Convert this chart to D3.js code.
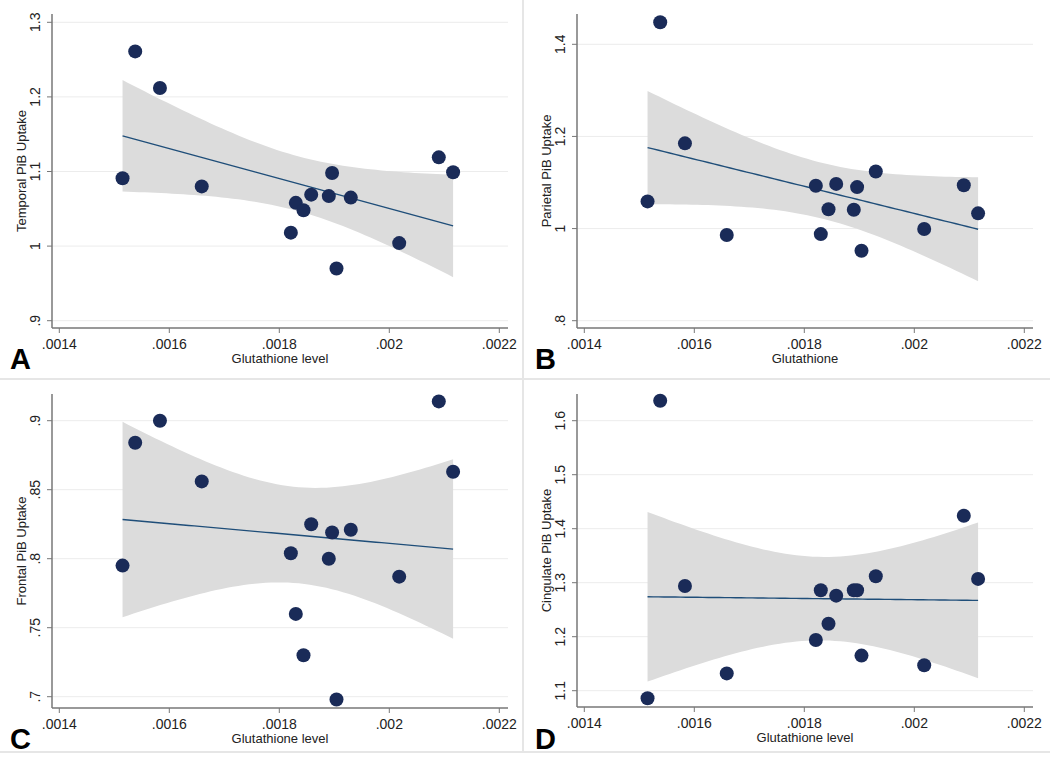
<!DOCTYPE html>
<html>
<head>
<meta charset="utf-8">
<script src="https://cdn.jsdelivr.net/npm/d3@7"></script>
<style>
  body { margin: 0; background: #fff; }
  svg text { font-family: "Liberation Sans", Arial, sans-serif; fill: #222; }
</style>
</head>
<body>
<div id="vis"></div>
<script>
// glutathione level for the 15 subjects (shared by every panel)
let glutathione = [.001515, .001538, .001583, .001659, .001821, .001830, .001844, .001858, .001890, .001896, .001904, .001930, .002018, .002090, .002116]

let temporal  = [1.091, 1.261, 1.212, 1.080, 1.018, 1.058, 1.048, 1.069, 1.067, 1.098, 0.970, 1.065, 1.004, 1.119, 1.099]
let parietal  = [1.059, 1.448, 1.185, 0.986, 1.093, 0.988, 1.042, 1.097, 1.041, 1.090, 0.952, 1.124, 0.999, 1.094, 1.033]
let frontal   = [0.795, 0.884, 0.900, 0.856, 0.804, 0.760, 0.730, 0.825, 0.800, 0.819, 0.698, 0.821, 0.787, 0.914, 0.863]
let cingulate = [1.086, 1.637, 1.294, 1.132, 1.194, 1.286, 1.224, 1.276, 1.286, 1.286, 1.165, 1.312, 1.147, 1.424, 1.307]

let xTicks = [.0014, .0016, .0018, .002, .0022]
let xTickLabels = ['.0014', '.0016', '.0018', '.002', '.0022']

let temporalTicks  = [.9, 1, 1.1, 1.2, 1.3]
let temporalLabels = ['.9', '1', '1.1', '1.2', '1.3']
let parietalTicks  = [.8, 1, 1.2, 1.4]
let parietalLabels = ['.8', '1', '1.2', '1.4']
let frontalTicks   = [.7, .75, .8, .85, .9]
let frontalLabels  = ['.7', '.75', '.8', '.85', '.9']
let cingulateTicks  = [1.1, 1.2, 1.3, 1.4, 1.5, 1.6]
let cingulateLabels = ['1.1', '1.2', '1.3', '1.4', '1.5', '1.6']

let panels = [
  {letter: 'A', ox: 0,   oy: 0,   y: temporal,  yTitle: 'Temporal PiB Uptake',  xTitle: 'Glutathione level', ticks: temporalTicks,  labels: temporalLabels,  dom: [.9, 1.3],  rng: [320.7, 22.3], axisY: 328},
  {letter: 'B', ox: 525, oy: 0,   y: parietal,  yTitle: 'Parietal PiB Uptake',  xTitle: 'Glutathione',       ticks: parietalTicks,  labels: parietalLabels,  dom: [.8, 1.4],  rng: [320.7, 44.3], axisY: 328},
  {letter: 'C', ox: 0,   oy: 380, y: frontal,   yTitle: 'Frontal PiB Uptake',   xTitle: 'Glutathione level', ticks: frontalTicks,   labels: frontalLabels,   dom: [.7, .9],   rng: [316.7, 40.7], axisY: 328},
  {letter: 'D', ox: 525, oy: 380, y: cingulate, yTitle: 'Cingulate PiB Uptake', xTitle: 'Glutathione level', ticks: cingulateTicks, labels: cingulateLabels, dom: [1.1, 1.6], rng: [310.7, 40.7], axisY: 327}
]

let width = 1050, height = 761

let svg = d3.select('#vis')
  .append('svg')
  .attr('width', width)
  .attr('height', height)

// panel separators
svg.append('rect').attr('width', width).attr('height', height).attr('fill', '#fff')
svg.append('line').attr('x1', 523).attr('x2', 523).attr('y1', 0).attr('y2', 752)
  .attr('stroke', '#e6e6e6').attr('stroke-width', 2)
svg.append('line').attr('x1', 0).attr('x2', width).attr('y1', 379).attr('y2', 379)
  .attr('stroke', '#e6e6e6').attr('stroke-width', 2)
svg.append('line').attr('x1', 0).attr('x2', width).attr('y1', 752).attr('y2', 752)
  .attr('stroke', '#e6e6e6').attr('stroke-width', 2)

// ols fit with 95% CI of the mean (t, 13 df)
function fit(xs, ys) {
  let n = xs.length
  let mx = d3.mean(xs), my = d3.mean(ys)
  let sxx = d3.sum(xs, x => (x - mx) ** 2)
  let sxy = d3.sum(xs, (x, i) => (x - mx) * (ys[i] - my))
  let b = sxy / sxx, a = my - b * mx
  let s2 = d3.sum(xs, (x, i) => (ys[i] - a - b * x) ** 2) / (n - 2)
  let t = 2.160
  return x0 => {
    let yhat = a + b * x0
    let se = Math.sqrt(s2 * (1 / n + (x0 - mx) ** 2 / sxx))
    return {x: x0, y: yhat, lo: yhat - t * se, hi: yhat + t * se}
  }
}

panels.forEach(p => {
  let g = svg.append('g').attr('transform', `translate(${p.ox},${p.oy})`)

  let x = d3.scaleLinear().domain([.0014, .0022]).range([59.3, 499.3])
  let y = d3.scaleLinear().domain(p.dom).range(p.rng)
  let left = 52, right = 508, top = 14

  // grid
  g.selectAll('.grid')
    .data(p.ticks)
    .join('line')
    .attr('x1', left).attr('x2', right)
    .attr('y1', d => y(d)).attr('y2', d => y(d))
    .attr('stroke', '#ececec').attr('stroke-width', 1)

  // CI band + fit line
  let model = fit(glutathione, p.y)
  let [xmin, xmax] = d3.extent(glutathione)
  let pts = d3.range(0, 61).map(i => model(xmin + (xmax - xmin) * i / 60))

  g.append('path')
    .datum(pts)
    .attr('d', d3.area().x(d => x(d.x)).y0(d => y(d.lo)).y1(d => y(d.hi)))
    .attr('fill', '#dcdcdc')

  g.append('path')
    .datum(pts)
    .attr('d', d3.line().x(d => x(d.x)).y(d => y(d.y)))
    .attr('fill', 'none')
    .attr('stroke', '#1f4e79')
    .attr('stroke-width', 1.4)

  // points
  g.selectAll('.dot')
    .data(glutathione.map((gx, i) => [gx, p.y[i]]))
    .join('circle')
    .attr('cx', d => x(d[0]))
    .attr('cy', d => y(d[1]))
    .attr('r', 7)
    .attr('fill', '#1a2b58')

  // axes
  g.append('line').attr('x1', left).attr('x2', left).attr('y1', top).attr('y2', p.axisY)
    .attr('stroke', '#777').attr('stroke-width', 1.5)
  g.append('line').attr('x1', left).attr('x2', right).attr('y1', p.axisY).attr('y2', p.axisY)
    .attr('stroke', '#777').attr('stroke-width', 1.5)

  g.selectAll('.ytick')
    .data(p.ticks)
    .join('line')
    .attr('x1', left - 5).attr('x2', left)
    .attr('y1', d => y(d)).attr('y2', d => y(d))
    .attr('stroke', '#777').attr('stroke-width', 1)

  g.selectAll('.ylab')
    .data(p.ticks)
    .join('text')
    .attr('transform', d => `translate(${left - 12},${y(d)}) rotate(-90)`)
    .attr('text-anchor', 'middle')
    .style('font-size', '14px')
    .text((d, i) => p.labels[i])

  g.selectAll('.xtick')
    .data(xTicks)
    .join('line')
    .attr('x1', d => x(d)).attr('x2', d => x(d))
    .attr('y1', p.axisY).attr('y2', p.axisY + 5)
    .attr('stroke', '#777').attr('stroke-width', 1)

  g.selectAll('.xlab')
    .data(xTicks)
    .join('text')
    .attr('x', d => x(d))
    .attr('y', p.axisY + 21)
    .attr('text-anchor', 'middle')
    .style('font-size', '14px')
    .text((d, i) => xTickLabels[i])

  g.append('text')
    .attr('x', (left + right) / 2 + 0)
    .attr('y', p.axisY + 35)
    .attr('text-anchor', 'middle')
    .style('font-size', '13px')
    .text(p.xTitle)

  g.append('text')
    .attr('transform', `translate(26,${(top + p.axisY) / 2}) rotate(-90)`)
    .attr('text-anchor', 'middle')
    .style('font-size', '13px')
    .text(p.yTitle)

  g.append('text')
    .attr('x', 10)
    .attr('y', 369)
    .style('font-size', '29px')
    .style('font-weight', 'bold')
    .style('fill', '#000')
    .text(p.letter)
})
</script>
</body>
</html>
